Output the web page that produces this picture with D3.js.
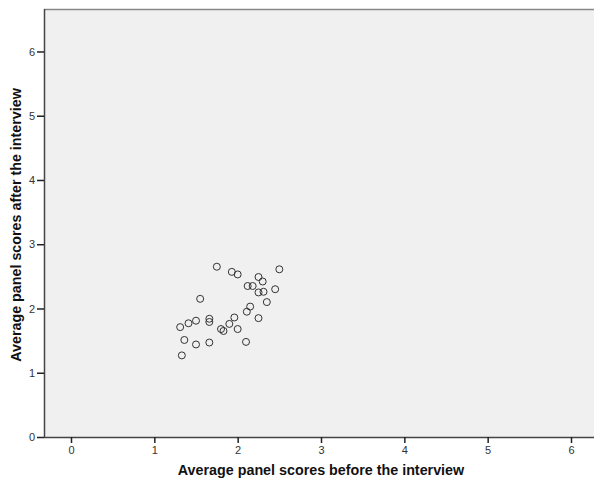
<!DOCTYPE html>
<html><head><meta charset="utf-8">
<script src="https://cdn.jsdelivr.net/npm/d3@7"></script>
<style>body{margin:0;background:#fff;}svg{display:block;}</style>
</head><body>
<script>
const xTicks = [0,1,2,3,4,5,6];
const yTicks = [0,1,2,3,4,5,6];
const beforeScores = [1.75,1.93,2.00,2.25,2.50,2.30,2.12,2.18,2.25,2.31,2.45,1.55,2.35,2.15,2.11,2.25,1.96,1.66,1.66,1.50,1.41,1.31,1.90,1.80,1.83,2.00,1.36,1.50,1.66,2.10,1.33];
const afterScores  = [2.65,2.57,2.53,2.49,2.61,2.42,2.35,2.35,2.25,2.26,2.30,2.15,2.10,2.03,1.95,1.85,1.86,1.84,1.79,1.81,1.77,1.71,1.76,1.68,1.65,1.68,1.51,1.44,1.47,1.48,1.27];
const xTitle = "Average panel scores before the interview";
const yTitle = "Average panel scores after the interview";

const W = 594, H = 483;
const L = 44, R = 594, T = 9, B = 437;
const svg = d3.select("body").append("svg").attr("width", W).attr("height", H);

const x = d3.scaleLinear().domain([-0.324, 6.276]).range([L, R]);
const y = d3.scaleLinear().domain([0, 6.661]).range([B, T]);

svg.append("rect").attr("x", L).attr("y", T).attr("width", R - L).attr("height", B - T).attr("fill", "#f0f0f0");
svg.append("line").attr("x1", L).attr("x2", R).attr("y1", T + 0.5).attr("y2", T + 0.5).attr("stroke", "#888").attr("stroke-width", 1.5);

const xAxis = svg.append("g").attr("transform", `translate(0,${B})`)
  .call(d3.axisBottom(x).tickValues(xTicks).tickSize(6).tickPadding(3).tickFormat(d3.format("d")));
const yAxis = svg.append("g").attr("transform", `translate(${L},0)`)
  .call(d3.axisLeft(y).tickValues(yTicks).tickSize(7).tickPadding(2).tickFormat(d3.format("d")));
[xAxis, yAxis].forEach(g => {
  g.select(".domain").attr("stroke", "#444").attr("stroke-width", 1.5);
  g.selectAll(".tick line").attr("stroke", "#222").attr("stroke-width", 1.5);
  g.selectAll(".tick text").attr("fill", "#333").style("font-family", "Arial, 'Liberation Sans', sans-serif").style("font-size", "11px");
});
xAxis.select(".domain").attr("d", `M${L},0.5H${R}`);
yAxis.select(".domain").attr("d", `M0.5,${T}V${B}`);

svg.append("g").selectAll("circle").data(beforeScores.map((b, i) => [b, afterScores[i]]))
  .join("circle")
  .attr("cx", d => x(d[0])).attr("cy", d => y(d[1])).attr("r", 3.5)
  .attr("fill", "none").attr("stroke", "#333").attr("stroke-width", 1);

svg.append("text").attr("x", 321).attr("y", 475).attr("text-anchor", "middle")
  .style("font-family", "Arial, 'Liberation Sans', sans-serif").style("font-weight", "bold").style("font-size", "14.3px")
  .attr("fill", "#111").text(xTitle);
svg.append("text").attr("transform", `translate(21,${(T + B) / 2 + 2}) rotate(-90)`).attr("text-anchor", "middle")
  .style("font-family", "Arial, 'Liberation Sans', sans-serif").style("font-weight", "bold").style("font-size", "14.3px")
  .attr("fill", "#111").text(yTitle);
</script>
</body></html>
